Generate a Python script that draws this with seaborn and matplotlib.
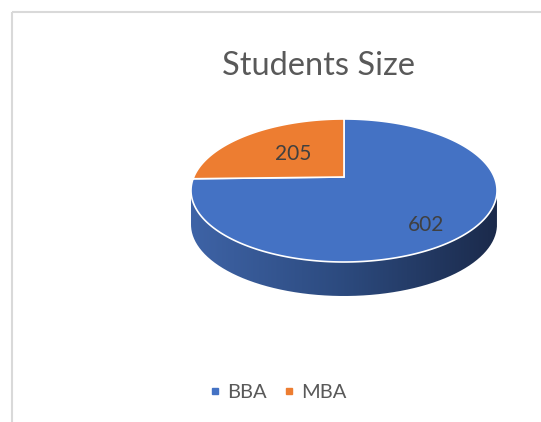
import numpy as np
import matplotlib
matplotlib.use("Agg")
import matplotlib.pyplot as plt
from matplotlib.path import Path
from matplotlib.patches import PathPatch, Rectangle
from matplotlib.lines import Line2D
from matplotlib.transforms import Transform
from matplotlib.colors import LinearSegmentedColormap
import seaborn as sns

# data
programs = ["BBA", "MBA"]
students = [602, 205]
colors = ["#4472C4", "#ED7D31"]
title = "Students Size"

# layout, in pixels of the 541x422 picture
W, H = 541, 422
CX, CY = 344, 177          # where the pie centre lands
SX, SY, K = 150.25, 68.95, 0.1888   # tilt / perspective of the pie top
DEPTH = 34                 # thickness of the 3d pie


def tilt_xy(xy):
    xy = np.atleast_2d(np.asarray(xy, float))
    w = 1 + K * xy[:, 1]
    return np.column_stack([CX + SX * xy[:, 0] / w, CY - SY * xy[:, 1] / w])


class Tilt(Transform):
    # flat unit pie -> tilted pie in pixel coords
    input_dims = output_dims = 2
    is_separable = False
    has_inverse = False

    def transform_non_affine(self, values):
        return tilt_xy(values)

    def transform_path_non_affine(self, path):
        pts = []
        for seg, code in path.iter_bezier():
            if code == Path.MOVETO:
                pts.append(seg.control_points)
            else:
                pts.append(seg(np.linspace(0, 1, 40))[1:])
        return Path(tilt_xy(np.vstack(pts)))


def main():
    sns.set_theme(style="white")
    plt.rcParams["font.family"] = ["Lato", "DejaVu Sans"]

    fig = plt.figure(figsize=(W / 100, H / 100), dpi=100)
    ax = fig.add_axes([0, 0, 1, 1])

    wedges, _ = ax.pie(students, colors=colors, startangle=90, counterclock=False,
                       wedgeprops=dict(edgecolor="white", linewidth=1.2))
    for w in wedges:
        w.set_transform(Tilt() + ax.transData)
        w.set_zorder(3)

    # side of the pie (front is all BBA)
    a0 = np.pi + np.arcsin(K)
    a1 = 2 * np.pi - np.arcsin(K)
    th = np.linspace(a0, a1, 200)
    top = tilt_xy(np.column_stack([np.cos(th), np.sin(th)]))
    bot = top[::-1] + [0, DEPTH]
    side = PathPatch(Path(np.vstack([top, bot, top[:1]])), facecolor="none",
                     edgecolor="none")
    ax.add_patch(side)
    cmap = LinearSegmentedColormap.from_list("side", ["#3E63A6", "#2C4A7E", "#1B2A4B"])
    grad = np.linspace(0, 1, 256).reshape(1, -1)
    im = ax.imshow(grad, cmap=cmap, aspect="auto", zorder=2,
                   extent=(top[:, 0].min(), top[:, 0].max(), bot[:, 1].max(), top[:, 1].min()))
    im.set_clip_path(side)

    # value labels
    total = sum(students)
    label_r = [0.78, 0.5]
    label_nudge = [-7.7, 0]
    start = 90.0
    for val, r, nd in zip(students, label_r, label_nudge):
        span = val / total * 360
        mid = np.deg2rad(start - span / 2 + nd)
        start -= span
        px, py = tilt_xy([r * np.cos(mid), r * np.sin(mid)])[0]
        ax.text(px, py, f"{val}", ha="center", va="center", fontsize=15,
                color="#404040", zorder=5)

    ax.text(319, 75, title, ha="center", va="baseline", fontsize=23.5, color="#595959")

    handles = [Line2D([], [], marker="s", linestyle="none", markersize=5,
                      markerfacecolor=c, markeredgecolor=c) for c in colors]
    ax.legend(handles, programs, loc="center", bbox_to_anchor=(278, 392),
              bbox_transform=ax.transData, ncol=2, frameon=False, fontsize=14.5,
              handlelength=0.6, handletextpad=0.3, columnspacing=0.8,
              labelcolor="#595959")

    ax.add_patch(Rectangle((12, 12), 700, 600, fill=False, edgecolor="#d9d9d9", linewidth=1.5))

    ax.set_aspect("auto")
    ax.set_xlim(0, W)
    ax.set_ylim(H, 0)
    ax.set_axis_off()
    fig.savefig("out.png", dpi=100)


if __name__ == '__main__':
    main()
